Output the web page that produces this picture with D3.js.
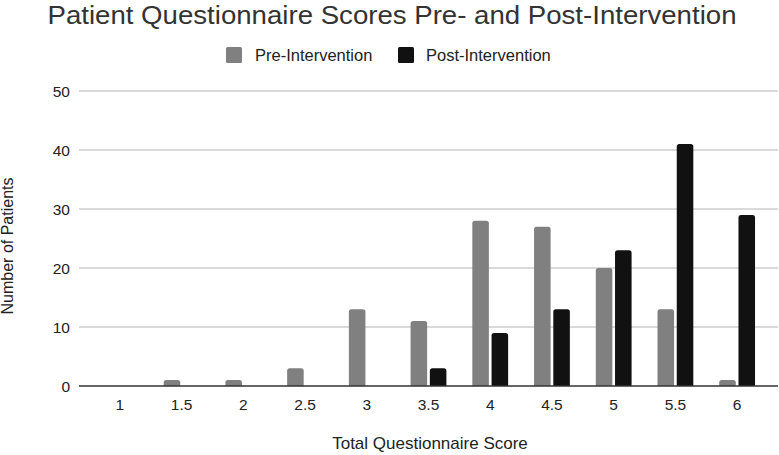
<!DOCTYPE html>
<html>
<head>
<meta charset="utf-8">
<script src="https://cdn.jsdelivr.net/npm/d3@7"></script>
<style>
  html, body { margin: 0; padding: 0; background: #fff; }
  svg { display: block; font-family: "Liberation Sans", Arial, sans-serif; }
</style>
</head>
<body>
<svg id="chart" width="779" height="455"></svg>
<script>
// ---- data ----
const categories = ["1", "1.5", "2", "2.5", "3", "3.5", "4", "4.5", "5", "5.5", "6"];
const seriesNames = ["Pre-Intervention", "Post-Intervention"];
const preValues  = [0, 1, 1, 3, 13, 11, 28, 27, 20, 13, 1];
const postValues = [0, 0, 0, 0, 0, 3, 9, 13, 23, 41, 29];
const yTicks = [0, 10, 20, 30, 40, 50];
const titleText = "Patient Questionnaire Scores Pre- and Post-Intervention";
const xTitle = "Total Questionnaire Score";
const yTitle = "Number of Patients";

const colors = { "Pre-Intervention": "#808080", "Post-Intervention": "#111111" };

const svg = d3.select("#chart");
const plot = { left: 89, right: 768, top: 91, bottom: 386 };

const x0 = d3.scaleBand().domain(categories).range([plot.left, plot.right])
  .paddingInner(0.42).paddingOuter(0.21);
const x1 = d3.scaleBand().domain(seriesNames).range([0, x0.bandwidth()])
  .paddingInner(0.14).paddingOuter(0);
const y = d3.scaleLinear().domain([0, 50]).range([plot.bottom, plot.top]);

// gridlines
svg.append("g").selectAll("line").data(yTicks.filter(d => d > 0)).join("line")
  .attr("x1", 79).attr("x2", 778)
  .attr("y1", d => y(d)).attr("y2", d => y(d))
  .attr("stroke", "#b4b4b4").attr("stroke-width", 1);

// y axis labels
const yAxis = d3.axisLeft(y).tickValues(yTicks).tickSize(0).tickPadding(0);
const yg = svg.append("g").attr("transform", "translate(70,0)").call(yAxis);
yg.select(".domain").remove();
yg.selectAll("text").attr("font-size", 15.5).attr("fill", "#222")
  .attr("font-family", "Liberation Sans, Arial, sans-serif").attr("dy", "0.36em");

// bars
const rows = categories.map((c, i) => ({ cat: c, vals: [
  { s: seriesNames[0], v: preValues[i] },
  { s: seriesNames[1], v: postValues[i] }
]}));

function barPath(xp, w, y0, y1v, r) {
  const h = y0 - y1v;
  if (h <= 0) return "";
  r = Math.min(r, h, w / 2);
  return `M${xp},${y0}V${y1v + r}Q${xp},${y1v} ${xp + r},${y1v}H${xp + w - r}Q${xp + w},${y1v} ${xp + w},${y1v + r}V${y0}Z`;
}

svg.append("g").selectAll("g").data(rows).join("g")
  .attr("transform", d => `translate(${x0(d.cat)},0)`)
  .selectAll("path").data(d => d.vals.filter(e => e.v > 0)).join("path")
  .attr("d", e => barPath(x1(e.s), x1.bandwidth(), y(0), y(e.v), 2.5))
  .attr("fill", e => colors[e.s]);

// baseline
svg.append("line").attr("x1", 79).attr("x2", 778)
  .attr("y1", y(0)).attr("y2", y(0))
  .attr("stroke", "#333").attr("stroke-width", 1.5);

// x axis labels
const xAxis = d3.axisBottom(x0).tickSize(0).tickPadding(0);
const xg = svg.append("g").attr("transform", `translate(0,${y(0)})`).call(xAxis);
xg.select(".domain").remove();
xg.selectAll("text").attr("font-size", 15.5).attr("fill", "#222")
  .attr("font-family", "Liberation Sans, Arial, sans-serif")
  .attr("dy", null).attr("y", 23.5);

// title
svg.append("text").attr("x", 392).attr("y", 24).attr("text-anchor", "middle")
  .attr("font-size", 26).attr("textLength", 689).attr("lengthAdjust", "spacingAndGlyphs")
  .attr("fill", "#333").text(titleText);

// legend
const leg = svg.append("g");
const legItems = [
  { s: seriesNames[0], sx: 226, tx: 255 },
  { s: seriesNames[1], sx: 398, tx: 426 }
];
legItems.forEach(it => {
  leg.append("rect").attr("x", it.sx).attr("y", 47).attr("width", 16).attr("height", 16)
    .attr("rx", 1.5).attr("fill", colors[it.s]);
  leg.append("text").attr("x", it.tx).attr("y", 60.5).attr("font-size", 16.5)
    .attr("fill", "#222").text(it.s);
});

// axis titles
svg.append("text").attr("x", 430).attr("y", 449).attr("text-anchor", "middle")
  .attr("font-size", 17).attr("fill", "#222").text(xTitle);
svg.append("text").attr("transform", "translate(13,246) rotate(-90)")
  .attr("text-anchor", "middle").attr("font-size", 16).attr("fill", "#222").text(yTitle);
</script>
</body>
</html>
